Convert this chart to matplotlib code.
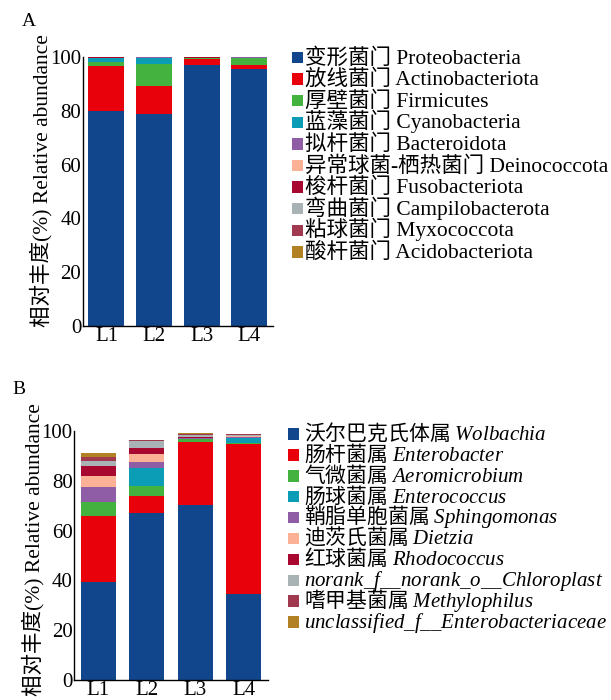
import numpy as np
import matplotlib
matplotlib.use("Agg")
import matplotlib.pyplot as plt
from matplotlib.patches import Rectangle

plt.rcParams['mathtext.fontset'] = 'custom'
plt.rcParams['mathtext.it'] = 'Liberation Serif:italic'
plt.rcParams['mathtext.rm'] = 'Liberation Serif'

samples = ['L1', 'L2', 'L3', 'L4']

# panel A: phylum level (%)
phyla = ['变形菌门 Proteobacteria', '放线菌门 Actinobacteriota', '厚壁菌门 Firmicutes',
         '蓝藻菌门 Cyanobacteria', '拟杆菌门 Bacteroidota', '异常球菌-栖热菌门 Deinococcota',
         '梭杆菌门 Fusobacteriota', '弯曲菌门 Campilobacterota', '粘球菌门 Myxococcota',
         '酸杆菌门 Acidobacteriota']
proteobacteria = [80.0, 78.7, 97.0, 95.6]
actinobacteriota = [16.9, 10.7, 2.5, 1.5]
firmicutes = [1.3, 8.2, 0.1, 2.7]
cyanobacteria = [1.5, 2.3, 0.2, 0.1]
bacteroidota = [0.1, 0.05, 0.05, 0.05]
deinococcota = [0.1, 0.05, 0.05, 0.05]
fusobacteriota = [0.05, 0.05, 0.05, 0.0]
campilobacterota = [0.05, 0.05, 0.05, 0.0]
myxococcota = [0.05, 0.0, 0.0, 0.0]
acidobacteriota = [0.05, 0.0, 0.0, 0.0]

# panel B: genus level (%)
genera = ['沃尔巴克氏体属 $\\mathit{Wolbachia}$', '肠杆菌属 $\\mathit{Enterobacter}$',
          '气微菌属 $\\mathit{Aeromicrobium}$', '肠球菌属 $\\mathit{Enterococcus}$',
          '鞘脂单胞菌属 $\\mathit{Sphingomonas}$', '迪茨氏菌属 $\\mathit{Dietzia}$',
          '红球菌属 $\\mathit{Rhodococcus}$',
          '$\\mathit{norank\\_f\\_\\_norank\\_o\\_\\_Chloroplast}$',
          '嗜甲基菌属 $\\mathit{Methylophilus}$',
          '$\\mathit{unclassified\\_f\\_\\_Enterobacteriaceae}$']
wolbachia = [39.4, 67.1, 70.3, 34.4]
enterobacter = [26.6, 6.8, 25.4, 60.4]
aeromicrobium = [5.6, 4.1, 1.0, 0.4]
enterococcus = [0.0, 7.2, 0.2, 2.1]
sphingomonas = [6.0, 2.5, 0.1, 0.1]
dietzia = [4.3, 3.1, 0.3, 0.4]
rhodococcus = [4.2, 2.2, 0.4, 0.3]
chloroplast = [2.0, 3.0, 0.6, 0.3]
methylophilus = [1.6, 0.3, 0.5, 0.3]
enterobacteriaceae = [1.3, 0.0, 0.3, 0.1]

colors = ['#12468C', '#E8000B', '#44B23F', '#0B9DB5', '#8E5DA5',
          '#FBB195', '#A8072F', '#A9B3B6', '#A0384E', '#B28124']

data_a = [proteobacteria, actinobacteriota, firmicutes, cyanobacteria, bacteroidota,
          deinococcota, fusobacteriota, campilobacterota, myxococcota, acidobacteriota]
data_b = [wolbachia, enterobacter, aeromicrobium, enterococcus, sphingomonas,
          dietzia, rhodococcus, chloroplast, methylophilus, enterobacteriaceae]

serif = ['Liberation Serif', 'Noto Sans CJK SC']
W, H = 611, 700

fig = plt.figure(figsize=(W / 100, H / 100), dpi=100)
ax_a = fig.add_axes([0.1353, 0.5343, 0.3115, 0.3839])
ax_b = fig.add_axes([0.1211, 0.0286, 0.3175, 0.3557])


def stacked(ax, series, width, label_y):
    x = np.arange(len(samples))
    bottom = np.zeros(len(samples))
    for vals, c in zip(series, colors):
        ax.bar(x, vals, width, bottom=bottom, color=c, linewidth=0)
        bottom += np.array(vals)
    ax.set_xlim(-0.5, 3.5)
    ax.set_ylim(0, 100)
    ax.set_xticks(x)
    ax.set_xticklabels(samples, family=serif, fontsize=15)
    ax.set_yticks([0, 20, 40, 60, 80, 100])
    ax.set_yticklabels(['0', '20', '40', '60', '80', '100'], family=serif, fontsize=15)
    ax.tick_params(axis='both', length=0, pad=1)
    ax.spines['top'].set_visible(False)
    ax.spines['right'].set_visible(False)
    ax.spines['left'].set_linewidth(1.0)
    ax.spines['bottom'].set_linewidth(1.0)
    ax.set_ylabel('相对丰度(%) Relative abundance', family=serif, fontsize=15.5, labelpad=-2)
    ax.yaxis.label.set_y(label_y)


def legend_rows(labels, x_box, x_text, y_first, step, box, size, family):
    # hand placed legend rows, pixel units from top-left
    for i, (lab, c) in enumerate(zip(labels, colors)):
        yc = y_first + i * step
        fig.patches.append(Rectangle((x_box / W, 1 - (yc + 2 + box / 2) / H), box / W, box / H,
                                     transform=fig.transFigure, facecolor=c, edgecolor='none'))
        fig.text(x_text / W, 1 - (yc + 0.37 * size * 100 / 72) / H, lab,
                 family=family, fontsize=size, va='baseline', ha='left')


stacked(ax_a, data_a, 0.756, 0.54)
stacked(ax_b, data_b, 0.72, 0.522)

fig.text(0.035, 0.970, 'A', family=serif, fontsize=14, va='center')
fig.text(0.020, 0.443, 'B', family=serif, fontsize=14, va='center')

legend_rows(phyla, 291.5, 305, 55.5, 21.6, 11.5, 15.5, serif)
legend_rows(genera, 287.5, 304, 432, 20.9, 11.5, 15, 'Noto Sans CJK SC')

fig.savefig('out.png', dpi=100)
